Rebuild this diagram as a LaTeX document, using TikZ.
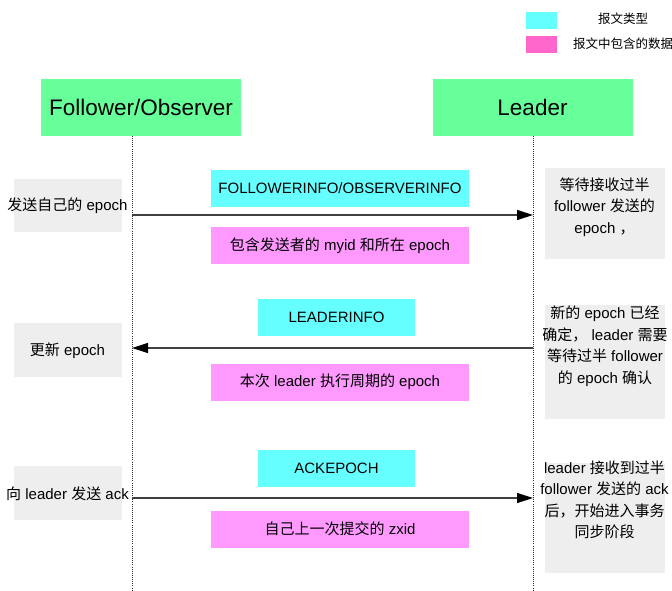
\documentclass[tikz,border=0pt]{standalone}
\usepackage{fontspec}
\setmainfont{Liberation Sans}
\newfontfamily\cjkfont{Noto Sans CJK SC}
\newcommand\zh[1]{{\cjkfont #1}}
\usetikzlibrary{arrows.meta}

\definecolor{headgreen}{HTML}{66FF99}
\definecolor{msgcyan}{HTML}{66FFFF}
\definecolor{datapink}{HTML}{FF99FF}
\definecolor{keypink}{HTML}{FF66CC}
\definecolor{notegray}{HTML}{EEEEEE}
\definecolor{linegray}{HTML}{404040}
\definecolor{dotgray}{HTML}{2A2A2A}

\tikzset{
  every node/.style={inner sep=0pt, outer sep=0pt},
  head/.style={fill=headgreen, minimum width=200pt, minimum height=57pt,
    font=\fontsize{22.5}{26}\selectfont},
  msgbox/.style={fill=msgcyan, minimum height=37pt, font=\fontsize{15}{18}\selectfont},
  databox/.style={fill=datapink, minimum width=258pt, minimum height=37pt,
    font=\fontsize{15}{18}\selectfont},
  notebox/.style={fill=notegray},
  note/.style={font=\fontsize{15}{21.5}\selectfont, align=center},
  keytext/.style={font=\fontsize{12.5}{15}\selectfont},
  lifeline/.style={draw=dotgray, line width=0.9pt, dash pattern=on 1pt off 1.1pt},
  msg/.style={draw=linegray, line width=1.2pt, -{Triangle[length=16pt,width=10pt,color=black]}},
}

\begin{document}
\begin{tikzpicture}[x=1pt, y=-1pt]
\useasboundingbox (0,0) rectangle (672,591);
\clip (0,0) rectangle (672,591);

% legend
\node[fill=msgcyan, minimum width=31pt, minimum height=17pt] (keymsg) at (541.5,20.5) {};
\node[fill=keypink, minimum width=31pt, minimum height=17pt] (keydata) at (541.5,45) {};
\node[keytext] (keymsgtext) at (623,19) {\zh{报文类型}};
\node[keytext, anchor=west] (keydatatext) at (573,44) {\zh{报文中包含的数据}};

% participants
\node[head] (follower) at (141,107.5) {Follower/Observer};
\node[head] (leader) at (532.5,107.5) {Leader};

% lifelines
\coordinate (ftop) at (132,136);
\coordinate (fbot) at (132,591);
\coordinate (ltop) at (533,136);
\coordinate (lbot) at (533,591);
\draw[lifeline] (ftop) -- (fbot);
\draw[lifeline] (ltop) -- (lbot);

% step 1: FOLLOWERINFO
\node[notebox, minimum width=108pt, minimum height=53pt] (fnote1) at (68,205.5) {};
\node[note] (fnote1text) at (67.5,206) {\zh{发送自己的} epoch};
\node[msgbox, minimum width=258pt] (msg1) at (340,188.5) {FOLLOWERINFO/OBSERVERINFO};
\node[databox] (data1) at (340,245.5) {\zh{包含发送者的} myid \zh{和所在} epoch};
\node[notebox, minimum width=120pt, minimum height=91pt] (lnote1) at (605,213.5) {};
\node[note] (lnote1text) at (604.5,207) {\zh{等待接收过半}\\follower \zh{发送的}\\epoch \zh{，}};
\coordinate (f1) at (132,215);
\coordinate (l1) at (533,215);
\draw[msg] (f1) -- (l1);

% step 2: LEADERINFO
\node[notebox, minimum width=108pt, minimum height=54pt] (fnote2) at (68,349.5) {};
\node[note] (fnote2text) at (67.5,351) {\zh{更新} epoch};
\node[msgbox, minimum width=157pt] (msg2) at (336.5,317.5) {LEADERINFO};
\node[databox] (data2) at (340,382) {\zh{本次} leader \zh{执行周期的} epoch};
\node[notebox, minimum width=120pt, minimum height=114pt] (lnote2) at (605,362) {};
\node[note] (lnote2text) at (605,346) {\zh{新的} epoch \zh{已经}\\\zh{确定，} leader \zh{需要}\\\zh{等待过半} follower\\\zh{的} epoch \zh{确认}};
\coordinate (l2) at (533,348);
\coordinate (f2) at (132,348);
\draw[msg] (l2) -- (f2);

% step 3: ACKEPOCH
\node[notebox, minimum width=108pt, minimum height=54pt] (fnote3) at (68,493) {};
\node[note] (fnote3text) at (67.5,494) {\zh{向} leader \zh{发送} ack};
\node[msgbox, minimum width=157pt] (msg3) at (336.5,468.5) {ACKEPOCH};
\node[databox] (data3) at (340,529) {\zh{自己上一次提交的} zxid};
\node[notebox, minimum width=120pt, minimum height=110pt] (lnote3) at (605,518) {};
\node[note] (lnote3text) at (604.5,500) {leader \zh{接收到过半}\\follower \zh{发送的} ack\\\zh{后，开始进入事务}\\\zh{同步阶段}};
\coordinate (f3) at (132,498);
\coordinate (l3) at (533,498);
\draw[msg] (f3) -- (l3);
\end{tikzpicture}
\end{document}
